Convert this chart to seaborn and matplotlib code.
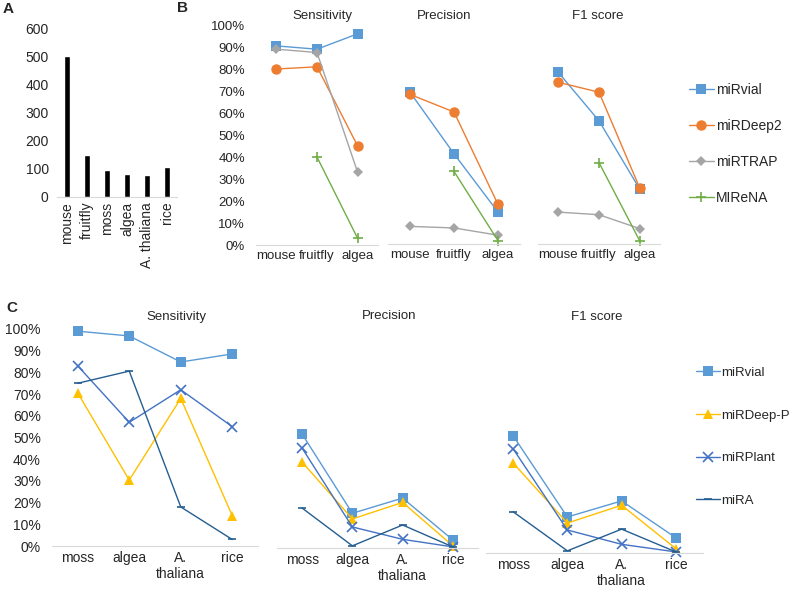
import numpy as np
import seaborn as sns
import matplotlib
matplotlib.use("Agg")
import matplotlib.pyplot as plt
from matplotlib.lines import Line2D
from matplotlib.ticker import PercentFormatter

# ---- data ----
a_species = ["mouse", "fruitfly", "moss", "algea", "A. thaliana", "rice"]
a_counts = [505, 149, 96, 81, 78, 107]

b_species = ["mouse", "fruitfly", "algea"]
b_tools = ["miRvial", "miRDeep2", "miRTRAP", "MIReNA"]
b_sens = {"miRvial": [0.905, 0.89, 0.96], "miRDeep2": [0.80, 0.81, 0.45],
          "miRTRAP": [0.89, 0.875, 0.33], "MIReNA": [np.nan, 0.40, 0.03]}
b_prec = {"miRvial": [0.69, 0.41, 0.145], "miRDeep2": [0.68, 0.60, 0.18],
          "miRTRAP": [0.08, 0.073, 0.04], "MIReNA": [np.nan, 0.33, 0.015]}
b_f1 = {"miRvial": [0.78, 0.56, 0.25], "miRDeep2": [0.735, 0.69, 0.255],
        "miRTRAP": [0.145, 0.133, 0.07], "MIReNA": [np.nan, 0.37, 0.015]}

c_species = ["moss", "algea", "A.\nthaliana", "rice"]
c_tools = ["miRvial", "miRDeep-P", "miRPlant", "miRA"]
c_sens = {"miRvial": [0.99, 0.968, 0.848, 0.885], "miRDeep-P": [0.705, 0.304, 0.68, 0.14],
          "miRPlant": [0.83, 0.57, 0.72, 0.55], "miRA": [0.75, 0.806, 0.18, 0.03]}
c_prec = {"miRvial": [0.525, 0.16, 0.23, 0.037], "miRDeep-P": [0.396, 0.134, 0.21, 0.01],
          "miRPlant": [0.46, 0.097, 0.04, 0.005], "miRA": [0.184, 0.01, 0.106, 0.005]}
c_f1 = {"miRvial": [0.54, 0.166, 0.24, 0.07], "miRDeep-P": [0.415, 0.138, 0.22, 0.02],
        "miRPlant": [0.48, 0.106, 0.04, 0.005], "miRA": [0.19, 0.01, 0.11, 0.005]}

# ---- styles ----
b_style = {"miRvial": ("#5B9BD5", "s", 7), "miRDeep2": ("#ED7D31", "o", 7.5),
           "miRTRAP": ("#A5A5A5", "D", 5), "MIReNA": ("#70AD47", "+", 7)}
c_style = {"miRvial": ("#5B9BD5", "s", 7), "miRDeep-P": ("#FFC000", "^", 7.5),
           "miRPlant": ("#4472C4", "x", 7), "miRA": ("#255E91", "_", 6)}

sns.set_style("white")
plt.rcParams["font.family"] = ["Liberation Sans", "DejaVu Sans"]

W, H = 796, 590
fig = plt.figure(figsize=(W / 100, H / 100), dpi=100)


def px_axes(x0, x1, ytop, ybot):
    return fig.add_axes([x0 / W, 1 - ybot / H, (x1 - x0) / W, (ybot - ytop) / H])


def clean(ax):
    for s in ["top", "right", "left"]:
        ax.spines[s].set_visible(False)
    ax.spines["bottom"].set_color("#D9D9D9")
    ax.tick_params(length=0)
    ax.set_xlabel("")
    ax.set_ylabel("")


def line_panel(ax, data, tools, style, labels, show_y, fs):
    x = np.arange(len(labels))
    for t in tools:
        col, mk, ms = style[t]
        mew = 1.2 if mk in ["+", "x", "_"] else 0
        sns.lineplot(x=x, y=data[t], ax=ax, color=col, marker=mk, markersize=ms,
                     markeredgewidth=mew, markeredgecolor=col, linewidth=1.0,
                     clip_on=False, legend=False)
    ax.set_xlim(-0.5, len(labels) - 0.5)
    ax.set_ylim(0, 1)
    ax.set_xticks(x)
    ax.set_xticklabels(labels, fontsize=fs)
    if show_y:
        ax.set_yticks(np.arange(0, 1.01, 0.1))
        ax.yaxis.set_major_formatter(PercentFormatter(1.0, decimals=0))
        ax.tick_params(axis="y", labelsize=fs, pad=8)
    else:
        ax.set_yticks([])
    clean(ax)


# ---- panel A ----
axA = px_axes(57, 177, 29, 197)
sns.barplot(x=a_species, y=a_counts, ax=axA, color="black", width=0.3)
axA.set_ylim(0, 600)
axA.set_yticks(range(0, 601, 100))
axA.tick_params(axis="y", labelsize=10, pad=6)
axA.tick_params(axis="x", labelsize=10, rotation=90)
clean(axA)

# ---- panel B ----
axB1 = px_axes(256, 378, 25, 245)
line_panel(axB1, b_sens, b_tools, b_style, b_species, True, 9.5)
axB2 = px_axes(388, 520, 24, 244)
line_panel(axB2, b_prec, b_tools, b_style, b_species, False, 9.5)
axB3 = px_axes(538, 660, 24, 244)
line_panel(axB3, b_f1, b_tools, b_style, b_species, False, 9.5)

# ---- panel C ----
axC1 = px_axes(52, 258, 329, 546)
line_panel(axC1, c_sens, c_tools, c_style, c_species, True, 10)
axC2 = px_axes(277, 478, 331, 548)
line_panel(axC2, c_prec, c_tools, c_style, c_species, False, 10)
axC3 = px_axes(486, 703, 336, 553)
line_panel(axC3, c_f1, c_tools, c_style, c_species, False, 10)

# titles
for txt, x, y in [("Sensitivity", 322, 16), ("Precision", 444, 16), ("F1 score", 598, 16),
                  ("Sensitivity", 176, 317), ("Precision", 389, 316), ("F1 score", 597, 317)]:
    fig.text(x / W, 1 - y / H, txt, ha="center", va="center", fontsize=9.5)

# panel letters
for txt, x, y in [("A", 8, 9), ("B", 183, 8), ("C", 12, 308)]:
    fig.text(x / W, 1 - y / H, txt, ha="center", va="center", fontsize=11, fontweight="bold")


# legends
def make_handles(tools, style):
    hs = []
    for t in tools:
        col, mk, ms = style[t]
        mew = 1.2 if mk in ["+", "x", "_"] else 0
        hs.append(Line2D([], [], color=col, marker=mk, markersize=ms, markeredgewidth=mew,
                         markeredgecolor=col, linewidth=1.0))
    return hs


fig.legend(make_handles(b_tools, b_style), b_tools, loc="upper left",
           bbox_to_anchor=(676 / W, 1 - 70 / H), frameon=False, fontsize=10,
           labelspacing=1.6, handlelength=1.8, handletextpad=0.15)
fig.legend(make_handles(c_tools, c_style), c_tools, loc="upper left",
           bbox_to_anchor=(684 / W, 1 - 355 / H), frameon=False, fontsize=9.5,
           labelspacing=2.3, handlelength=1.8, handletextpad=0.1)

fig.savefig("out.png", dpi=100)
